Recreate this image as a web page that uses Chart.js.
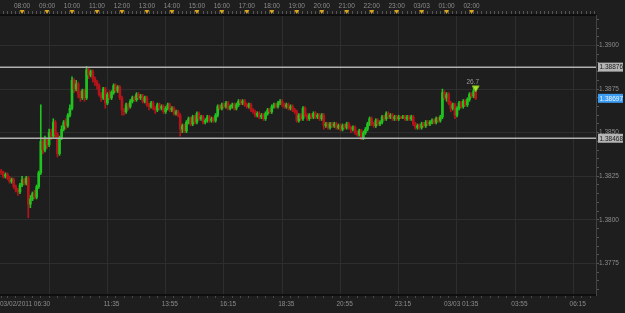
<!DOCTYPE html>
<html>
<head>
<meta charset="utf-8">
<script src="https://cdn.jsdelivr.net/npm/chart.js@4"></script>
<style>
  html, body { margin: 0; padding: 0; background: #1e1e1e; }
  #wrap { width: 625px; height: 313px; }
</style>
</head>
<body>
<div id="wrap"><canvas id="chart"></canvas></div>
<script>
// 5 minute candles, EUR/USD style quotes, 03/02 07:10 -> 03/03 02:10
const opens = [
  1.3828,1.3827,1.3825,1.3826,1.3824,1.3822,1.3823,1.3819,1.3817,1.3816,
  1.3820,1.3823,1.3821,1.3824,1.3809,1.3812,1.3815,1.3813,1.3819,1.3827,
  1.3845,1.3840,1.3846,1.3843,1.3850,1.3848,1.3856,1.3849,1.3838,1.3847,
  1.3852,1.3856,1.3854,1.3860,1.3864,1.3880,1.3875,1.3878,1.3872,1.3870,
  1.3874,1.3870,1.3886,1.3883,1.3885,1.3881,1.3879,1.3877,1.3872,1.3870,
  1.3875,1.3867,1.3872,1.3870,1.3873,1.3877,1.3874,1.3876,1.3870,1.3863,
  1.3862,1.3866,1.3865,1.3868,1.3870,1.3869,1.3872,1.3870,1.3871,1.3868,
  1.3870,1.3866,1.3865,1.3867,1.3864,1.3863,1.3866,1.3864,1.3865,1.3862,
  1.3864,1.3866,1.3863,1.3864,1.3861,1.3862,1.3860,1.3852,1.3854,1.3851,
  1.3856,1.3858,1.3855,1.3859,1.3856,1.3861,1.3858,1.3859,1.3856,1.3857,
  1.3859,1.3857,1.3858,1.3857,1.3860,1.3865,1.3864,1.3866,1.3865,1.3867,
  1.3864,1.3865,1.3866,1.3864,1.3866,1.3868,1.3867,1.3868,1.3866,1.3865,
  1.3866,1.3863,1.3862,1.3860,1.3861,1.3859,1.3860,1.3858,1.3861,1.3863,
  1.3862,1.3865,1.3866,1.3865,1.3867,1.3868,1.3866,1.3865,1.3866,1.3864,
  1.3865,1.3863,1.3862,1.3857,1.3860,1.3858,1.3864,1.3860,1.3858,1.3860,
  1.3859,1.3861,1.3859,1.3860,1.3858,1.3860,1.3854,1.3855,1.3853,1.3855,
  1.3854,1.3855,1.3853,1.3854,1.3852,1.3854,1.3853,1.3855,1.3853,1.3852,
  1.3853,1.3850,1.3849,1.3851,1.3847,1.3850,1.3852,1.3855,1.3858,1.3855,
  1.3854,1.3857,1.3855,1.3856,1.3859,1.3858,1.3861,1.3859,1.3860,1.3858,
  1.3859,1.3858,1.3859,1.38585,1.3859,1.3858,1.3859,1.3858,1.3859,1.3855,
  1.3853,1.3854,1.3853,1.3855,1.3854,1.3856,1.3855,1.3856,1.3857,1.3856,
  1.3858,1.3857,1.3859,1.3873,1.3870,1.3872,1.3867,1.3864,1.3866,1.3860,
  1.3864,1.3867,1.3865,1.3868,1.3866,1.3869,1.3872,1.3871,1.3874
];
const highs = [
  1.3829,1.3828,1.3827,1.3827,1.3825,1.3824,1.3824,1.3820,1.3818,1.3821,
  1.3825,1.3824,1.3825,1.3825,1.3814,1.3816,1.3817,1.3820,1.3828,1.3866,
  1.3847,1.3848,1.3847,1.3852,1.3852,1.3858,1.3857,1.3850,1.3848,1.3854,
  1.3857,1.3858,1.3861,1.3866,1.3882,1.3881,1.3880,1.3879,1.3874,1.3875,
  1.3875,1.3888,1.3887,1.3886,1.3886,1.3882,1.3880,1.3878,1.3873,1.3876,
  1.3876,1.3873,1.3874,1.3874,1.3878,1.3878,1.3877,1.3877,1.3871,1.3864,
  1.3867,1.3867,1.3869,1.3871,1.3871,1.3873,1.3873,1.3872,1.3872,1.3871,
  1.3871,1.3867,1.3868,1.3868,1.3865,1.3867,1.3867,1.3866,1.3866,1.3865,
  1.3867,1.3867,1.3865,1.3865,1.3863,1.3863,1.3861,1.3855,1.3855,1.3857,
  1.3859,1.3859,1.3860,1.3860,1.3862,1.3862,1.3860,1.3860,1.3858,1.3860,
  1.3860,1.3859,1.3859,1.3861,1.3866,1.3866,1.3867,1.3867,1.3868,1.3868,
  1.3866,1.3867,1.3867,1.3867,1.3869,1.3869,1.3869,1.3869,1.3867,1.3867,
  1.3867,1.3864,1.3863,1.3862,1.3862,1.3861,1.3861,1.3862,1.3864,1.3864,
  1.3866,1.3867,1.3867,1.3868,1.3869,1.3869,1.3867,1.3867,1.3867,1.3866,
  1.3866,1.3864,1.3863,1.3861,1.3861,1.3865,1.3865,1.3861,1.3861,1.3861,
  1.3862,1.3862,1.3861,1.3861,1.3861,1.3861,1.3856,1.3856,1.3856,1.3856,
  1.3856,1.3856,1.3855,1.3855,1.3855,1.3855,1.3856,1.3856,1.3854,1.3854,
  1.3854,1.3851,1.3852,1.3852,1.3851,1.3853,1.3856,1.3859,1.3859,1.3856,
  1.3858,1.3858,1.3857,1.3860,1.3860,1.3862,1.3862,1.3861,1.3861,1.3860,
  1.3860,1.3860,1.38595,1.3860,1.3860,1.3860,1.3860,1.3860,1.3860,1.3856,
  1.3855,1.3855,1.3856,1.3856,1.3857,1.3857,1.3857,1.3858,1.3858,1.3859,
  1.3859,1.3860,1.3875,1.3874,1.3873,1.3873,1.3868,1.3867,1.3867,1.3865,
  1.3868,1.3868,1.3869,1.3869,1.3870,1.3873,1.3873,1.3876,1.3875
];
const lows = [
  1.3826,1.3824,1.3824,1.3823,1.3821,1.3821,1.3818,1.3816,1.3814,1.3815,
  1.3819,1.3820,1.3820,1.38012,1.3807,1.3811,1.3812,1.3812,1.3818,1.3826,
  1.3838,1.3839,1.3841,1.3842,1.3846,1.3847,1.3847,1.3836,1.3837,1.3846,
  1.3851,1.3852,1.3853,1.3859,1.3863,1.3873,1.3874,1.3870,1.3868,1.3869,
  1.3868,1.3869,1.3881,1.3882,1.3879,1.3877,1.3875,1.3871,1.3868,1.3869,
  1.3864,1.3866,1.3869,1.3869,1.3872,1.3873,1.3873,1.3869,1.3860,1.3860,
  1.3861,1.3863,1.3864,1.3867,1.3868,1.3868,1.3869,1.3869,1.3867,1.3867,
  1.3865,1.3863,1.3864,1.3863,1.3861,1.3862,1.3863,1.3863,1.3861,1.3861,
  1.3863,1.3862,1.3862,1.3860,1.3860,1.3859,1.3848,1.3850,1.3850,1.3850,
  1.3855,1.3854,1.3854,1.3855,1.3855,1.3857,1.3857,1.3855,1.3855,1.3856,
  1.3856,1.3856,1.3856,1.3856,1.3859,1.3863,1.3863,1.3864,1.3864,1.3863,
  1.3863,1.3864,1.3863,1.3863,1.3865,1.3866,1.3866,1.3865,1.3864,1.3864,
  1.3862,1.3861,1.3859,1.3859,1.3858,1.3858,1.3857,1.3857,1.3860,1.3861,
  1.3861,1.3864,1.3864,1.3864,1.3866,1.3865,1.3864,1.3864,1.3863,1.3863,
  1.3862,1.3861,1.3856,1.3856,1.3857,1.3857,1.3859,1.3857,1.3857,1.3858,
  1.3858,1.3858,1.3858,1.3857,1.3857,1.3852,1.3853,1.3852,1.3852,1.3853,
  1.3853,1.3852,1.3852,1.3851,1.3851,1.3852,1.3852,1.3852,1.3850,1.3851,
  1.3849,1.3848,1.3848,1.3846,1.3846,1.3849,1.3851,1.3854,1.3854,1.3853,
  1.3853,1.3854,1.3854,1.3855,1.3857,1.3857,1.3858,1.3858,1.3857,1.3857,
  1.3857,1.3857,1.3858,1.3858,1.3857,1.3857,1.3857,1.3857,1.3854,1.3852,
  1.3852,1.3852,1.3852,1.3853,1.3853,1.3854,1.3854,1.3855,1.3855,1.3855,
  1.3856,1.3856,1.3858,1.3869,1.3868,1.3866,1.3862,1.3863,1.3858,1.3859,
  1.3863,1.3864,1.3864,1.3865,1.3865,1.3868,1.3870,1.3870,1.3869
];
const closes = [
  1.3827,1.3825,1.3826,1.3824,1.3822,1.3823,1.3819,1.3817,1.3816,1.3820,
  1.3823,1.3821,1.3824,1.3809,1.3812,1.3815,1.3813,1.3819,1.3827,1.3845,
  1.3840,1.3846,1.3843,1.3850,1.3848,1.3856,1.3849,1.3838,1.3847,1.3852,
  1.3856,1.3854,1.3860,1.3864,1.3880,1.3875,1.3878,1.3872,1.3870,1.3874,
  1.3870,1.3886,1.3883,1.3885,1.3881,1.3879,1.3877,1.3872,1.3870,1.3875,
  1.3867,1.3872,1.3870,1.3873,1.3877,1.3874,1.3876,1.3870,1.3863,1.3862,
  1.3866,1.3865,1.3868,1.3870,1.3869,1.3872,1.3870,1.3871,1.3868,1.3870,
  1.3866,1.3865,1.3867,1.3864,1.3863,1.3866,1.3864,1.3865,1.3862,1.3864,
  1.3866,1.3863,1.3864,1.3861,1.3862,1.3860,1.3852,1.3854,1.3851,1.3856,
  1.3858,1.3855,1.3859,1.3856,1.3861,1.3858,1.3859,1.3856,1.3857,1.3859,
  1.3857,1.3858,1.3857,1.3860,1.3865,1.3864,1.3866,1.3865,1.3867,1.3864,
  1.3865,1.3866,1.3864,1.3866,1.3868,1.3867,1.3868,1.3866,1.3865,1.3866,
  1.3863,1.3862,1.3860,1.3861,1.3859,1.3860,1.3858,1.3861,1.3863,1.3862,
  1.3865,1.3866,1.3865,1.3867,1.3868,1.3866,1.3865,1.3866,1.3864,1.3865,
  1.3863,1.3862,1.3857,1.3860,1.3858,1.3864,1.3860,1.3858,1.3860,1.3859,
  1.3861,1.3859,1.3860,1.3858,1.3860,1.3854,1.3855,1.3853,1.3855,1.3854,
  1.3855,1.3853,1.3854,1.3852,1.3854,1.3853,1.3855,1.3853,1.3852,1.3853,
  1.3850,1.3849,1.3851,1.3847,1.3850,1.3852,1.3855,1.3858,1.3855,1.3854,
  1.3857,1.3855,1.3856,1.3859,1.3858,1.3861,1.3859,1.3860,1.3858,1.3859,
  1.3858,1.3859,1.38585,1.3859,1.3858,1.3859,1.3858,1.3859,1.3855,1.3853,
  1.3854,1.3853,1.3855,1.3854,1.3856,1.3855,1.3856,1.3857,1.3856,1.3858,
  1.3857,1.3859,1.3873,1.3870,1.3872,1.3867,1.3864,1.3866,1.3860,1.3864,
  1.3867,1.3865,1.3868,1.3866,1.3869,1.3872,1.3871,1.3874,1.38697
];

// minutes after 03/02 00:00
const firstBar = 430;
const barStep = 5;
const viewMin = 427;
const viewMax = 1859;
const lastHourLabel = 1560;   // 02:00 on the top ruler
const yMin = 1.37569;
const yMax = 1.39175;

const levels = [1.38876, 1.38468];
const lastPrice = 1.38697;
const markerText = '26.7';
const markerPrice = 1.38757;

const up = '#1fc41f';
const down = '#b5141a';
const txt = '#8c8c8c';
const gridCol = '#2e2e2e';
const font = { family: 'Liberation Sans', size: 6.5 };

const times = closes.map((_, i) => firstBar + i * barStep);
const colors = closes.map((c, i) => c >= opens[i] ? up : down);

function hhmm(m) {
  const h = Math.floor(m / 60) % 24, mm = m % 60;
  return String(h).padStart(2, '0') + ':' + String(mm).padStart(2, '0');
}

function noSidePad(s) {
  s.paddingLeft = 0;
  s.paddingRight = 0;
}

const deco = {
  id: 'deco',
  beforeDraw(chart) {
    const ctx = chart.ctx;
    ctx.save();
    ctx.fillStyle = '#1e1e1e';
    ctx.fillRect(0, 0, chart.width, chart.height);
    ctx.restore();
  },
  afterDraw(chart) {
    const ctx = chart.ctx, y = chart.scales.y, top = chart.scales.x2;
    ctx.save();
    // hour markers on the top ruler
    ctx.fillStyle = '#d9a51a';
    top.ticks.forEach(t => {
      if (t.value % 60 !== 0 || t.value > lastHourLabel) return;
      const px = top.getPixelForValue(t.value);
      ctx.beginPath();
      ctx.moveTo(px - 2.5, 10);
      ctx.lineTo(px + 2.5, 10);
      ctx.lineTo(px, 14);
      ctx.closePath();
      ctx.fill();
    });
    // price boxes on the right axis
    ctx.font = '6.5px "Liberation Sans"';
    ctx.textBaseline = 'middle';
    ctx.textAlign = 'left';
    const box = (v, bg, fg) => {
      const py = y.getPixelForValue(v);
      ctx.fillStyle = bg;
      ctx.fillRect(598, py - 4.5, 25, 9);
      ctx.fillStyle = fg;
      ctx.fillText(v.toFixed(5), 599.5, py + 0.5);
    };
    levels.forEach(l => box(l, '#b4b4b4', '#1a1a1a'));
    box(lastPrice, '#3d9df2', '#eaf4ff');
    // indicator text over the arrow
    const mx = chart.scales.x.getPixelForValue(times[times.length - 1]);
    const my = y.getPixelForValue(markerPrice);
    ctx.fillStyle = '#9a9a9a';
    ctx.textAlign = 'center';
    ctx.fillText(markerText, mx - 3, my - 6);
    ctx.restore();
  }
};

const config = {
  type: 'bar',
  data: {
    datasets: [
      {
        label: 'wick',
        data: times.map((t, i) => ({ x: t, y: [lows[i], highs[i]] })),
        backgroundColor: colors,
        barThickness: 1,
        grouped: false,
        order: 3
      },
      {
        label: 'body',
        data: times.map((t, i) => ({ x: t, y: [opens[i], closes[i]] })),
        backgroundColor: colors,
        barThickness: 2,
        grouped: false,
        order: 2
      },
      ...levels.map(l => ({
        type: 'line',
        data: [{ x: viewMin, y: l }, { x: viewMax, y: l }],
        borderColor: '#b0b0b0',
        borderWidth: 1.5,
        pointRadius: 0,
        order: 1
      })),
      {
        type: 'scatter',
        data: [{ x: times[times.length - 1], y: markerPrice }],
        pointStyle: 'triangle',
        rotation: 180,
        radius: 4,
        backgroundColor: '#a8e22e',
        borderColor: '#78b01c',
        borderWidth: 1,
        order: 0
      }
    ]
  },
  options: {
    responsive: true,
    maintainAspectRatio: false,
    animation: false,
    layout: { padding: 0, autoPadding: false },
    plugins: { legend: { display: false }, tooltip: { enabled: false } },
    scales: {
      x: {
        type: 'linear',
        position: 'bottom',
        min: viewMin,
        max: viewMax,
        offset: false,
        afterBuildTicks(s) {
          const t = [{ value: viewMin }];
          for (let m = 435; m <= viewMax; m += 20) t.push({ value: m });
          s.ticks = t;
        },
        afterFit(s) { s.height = 18; noSidePad(s); },
        ticks: {
          autoSkip: false,
          maxRotation: 0,
          align: 'inner',
          padding: 2,
          color: txt,
          font,
          callback(v) {
            if (v === viewMin) return '03/02/2011 06:30';
            if ((v - 415) % 140 === 0 && v !== 555) return (v === 1535 ? '03/03 ' : '') + hhmm(v);
            return '';
          }
        },
        grid: {
          color: c => (c.tick && (c.tick.value - 415) % 140 === 0) ? gridCol : 'rgba(0,0,0,0)',
          tickColor: '#4a4a4a',
          tickLength: 3
        },
        border: { color: '#0e0e0e', width: 2 }
      },
      x2: {
        type: 'linear',
        position: 'top',
        min: viewMin,
        max: viewMax,
        offset: false,
        afterBuildTicks(s) {
          const t = [];
          for (let m = 430; m <= viewMax; m += 10) t.push({ value: m });
          s.ticks = t;
        },
        afterFit(s) { s.height = 15; noSidePad(s); },
        ticks: {
          autoSkip: false,
          maxRotation: 0,
          padding: 1,
          color: txt,
          font,
          callback(v) {
            if (v % 60 !== 0 || v > lastHourLabel) return '';
            return v === 1440 ? '03/03' : hhmm(v);
          }
        },
        grid: { drawOnChartArea: false, tickColor: '#555', tickLength: 4 },
        border: { color: '#0e0e0e', width: 2 }
      },
      y: {
        position: 'right',
        min: yMin,
        max: yMax,
        afterBuildTicks(s) {
          const t = [];
          for (let k = 0; k <= 31; k++) t.push({ value: Math.round((1.3760 + k * 0.0005) * 10000) / 10000 });
          s.ticks = t;
        },
        afterFit(s) { s.width = 29; s.paddingTop = 0; s.paddingBottom = 0; },
        ticks: {
          autoSkip: false,
          padding: 0,
          color: txt,
          font,
          callback(v) {
            return Math.round(v * 10000) % 25 === 0 ? v.toFixed(4) : '';
          }
        },
        grid: {
          color: c => (c.tick && Math.round(c.tick.value * 10000) % 25 === 0) ? gridCol : 'rgba(0,0,0,0)',
          tickColor: '#555',
          tickLength: 3
        },
        border: { color: '#444' }
      }
    }
  },
  plugins: [deco]
};

const priceChart = new Chart(document.getElementById('chart'), config);
</script>
</body>
</html>
